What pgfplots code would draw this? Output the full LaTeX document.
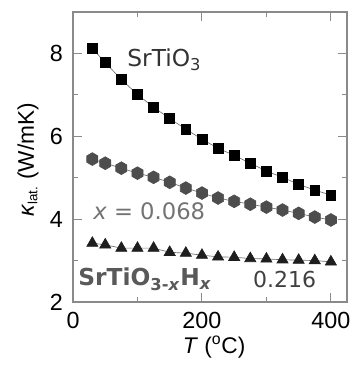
\documentclass[border=0pt]{standalone}
\usepackage{pgfplots}
\pgfplotsset{compat=1.18}
\usepackage{fontspec}
\setmainfont{DejaVu Sans}
\newfontfamily\arial{Liberation Sans}
\definecolor{hexcol}{HTML}{4D4D4D}
\definecolor{tricol}{HTML}{1E1E1E}
\definecolor{framecol}{HTML}{8A8A8A}
\definecolor{linecol}{HTML}{707070}
\pgfdeclareplotmark{hexagon*}{%
  \pgfpathmoveto{\pgfqpointpolar{90}{\pgfplotmarksize}}%
  \pgfpathlineto{\pgfqpointpolar{150}{\pgfplotmarksize}}%
  \pgfpathlineto{\pgfqpointpolar{210}{\pgfplotmarksize}}%
  \pgfpathlineto{\pgfqpointpolar{270}{\pgfplotmarksize}}%
  \pgfpathlineto{\pgfqpointpolar{330}{\pgfplotmarksize}}%
  \pgfpathlineto{\pgfqpointpolar{30}{\pgfplotmarksize}}%
  \pgfpathclose
  \pgfusepathqfillstroke}
\pgfplotstableread{
T sq hex tri
30 8.12 5.45 3.42
50 7.78 5.35 3.38
75 7.37 5.23 3.30
100 7.01 5.11 3.30
125 6.70 5.01 3.30
150 6.43 4.89 3.20
175 6.17 4.75 3.18
200 5.93 4.63 3.13
225 5.71 4.51 3.09
250 5.54 4.43 3.08
275 5.35 4.36 3.05
300 5.16 4.29 3.04
325 5.01 4.22 3.02
350 4.84 4.14 3.01
375 4.70 4.05 3.00
400 4.58 3.98 2.97
}\datatab
\begin{document}
\begin{tikzpicture}
\begin{axis}[
  scale only axis,
  width=205.5pt, height=217.5pt,
  xmin=0, xmax=425, ymin=2, ymax=9,
  xtick={0,200,400}, minor xtick={100,300},
  ytick={2,4,6,8}, minor ytick={3,5,7},
  tick align=inside,
  major tick length=7pt, minor tick length=3.5pt,
  axis line style={framecol, line width=0.8pt},
  every tick/.style={framecol, line width=0.8pt},
  /pgf/number format/assume math mode=true,
  ticklabel style={font=\arial\fontsize{17.5}{19}\selectfont, text=black},
  yticklabel style={xshift=-4pt},
  xticklabel style={yshift=-4pt},
  xlabel={\textit{T} (\textsuperscript{o}C)},
  ylabel={\textit{κ}\textsubscript{\fontsize{10}{11}\selectfont lat.} (W/mK)},
  label style={font=\arial\fontsize{17}{19}\selectfont, text=black},
  xlabel style={at={(axis description cs:0.515,-0.155)}, anchor=center},
  ylabel style={at={(axis description cs:-0.164,0.49)}, anchor=center},
  clip=false,
]
\addplot[linecol, line width=0.5pt, mark=square*, mark size=3.7pt, mark options={draw=black, fill=black}] table[x=T, y=sq] {\datatab};
\addplot[linecol, line width=0.5pt, mark=hexagon*, mark size=4.8pt, mark options={draw=hexcol, fill=hexcol}] table[x=T, y=hex] {\datatab};
\addplot[linecol, line width=0.5pt, mark=triangle*, mark size=4.8pt, mark options={draw=tricol, fill=tricol}] table[x=T, y=tri] {\datatab};
\node[anchor=base west, inner sep=0pt, text=black!80, font=\fontsize{17.5}{19}\selectfont] at (axis cs:84,7.69) {SrTiO\textsubscript{3}};
\node[anchor=base west, inner sep=0pt, text=black!55, font=\fontsize{17}{19}\selectfont] at (axis cs:31,3.98) {\textit{x} = 0.068};
\node[anchor=base west, inner sep=0pt, text=black!65, font=\bfseries\fontsize{17.5}{19}\selectfont] at (axis cs:8,2.39) {SrTiO\textsubscript{3-\textit{x}}H\textsubscript{\textit{x}}};
\node[anchor=base west, inner sep=0pt, text=black!75, font=\fontsize{16.5}{18}\selectfont] at (axis cs:279,2.34) {0.216};
\end{axis}
\pgfresetboundingbox
\path ([shift={(-54.75pt,-47.25pt)}]current axis.south west) rectangle ([shift={(8.25pt,9pt)}]current axis.north east);
\end{tikzpicture}
\end{document}
